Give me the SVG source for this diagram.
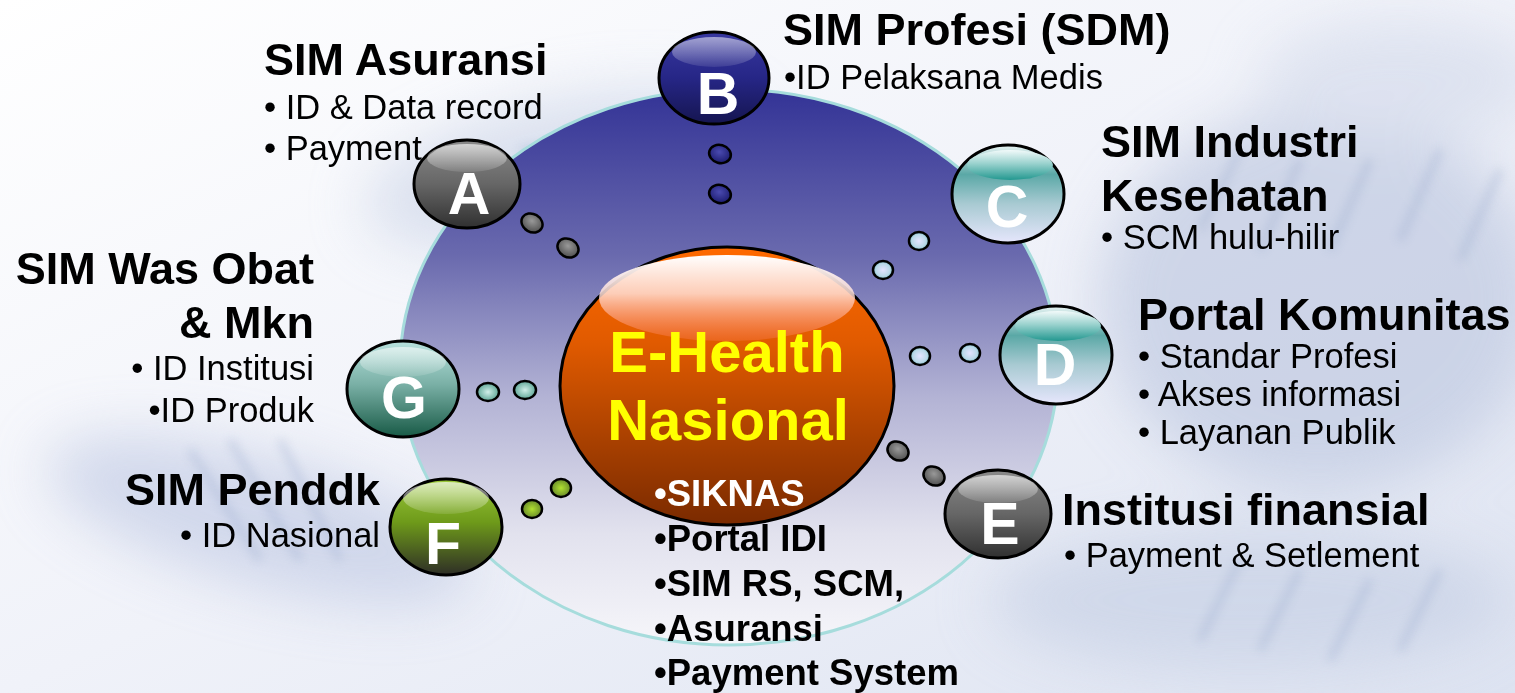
<svg xmlns="http://www.w3.org/2000/svg" width="1515" height="693" viewBox="0 0 1515 693">
<defs>
<linearGradient id="bg" x1="0" y1="0" x2="1" y2="1">
<stop offset="0" stop-color="#ffffff"/>
<stop offset="0.5" stop-color="#f0f2f9"/>
<stop offset="1" stop-color="#dde3f1"/>
</linearGradient>
<filter id="blur" x="-50%" y="-50%" width="200%" height="200%"><feGaussianBlur stdDeviation="28"/></filter>
<filter id="blur2" x="-20%" y="-20%" width="140%" height="140%"><feGaussianBlur stdDeviation="5"/></filter>
<linearGradient id="gBig" x1="0" y1="0" x2="0" y2="1">
<stop offset="0" stop-color="#333396"/>
<stop offset="0.3" stop-color="#6a6aae"/>
<stop offset="0.55" stop-color="#b2b2d4"/>
<stop offset="0.8" stop-color="#e2e2ee"/>
<stop offset="1" stop-color="#f6f6fa"/>
</linearGradient>
<linearGradient id="gOr" x1="0" y1="0" x2="0" y2="1">
<stop offset="0" stop-color="#ff6a00"/>
<stop offset="0.35" stop-color="#e05a00"/>
<stop offset="0.7" stop-color="#a84000"/>
<stop offset="1" stop-color="#7a2a00"/>
</linearGradient>
<linearGradient id="gOrHi" x1="0" y1="0" x2="0" y2="1">
<stop offset="0" stop-color="#ffffff" stop-opacity="1"/>
<stop offset="0.45" stop-color="#ffe0d8" stop-opacity="0.85"/>
<stop offset="1" stop-color="#ff8060" stop-opacity="0.3"/>
</linearGradient>
<linearGradient id="hiW" x1="0" y1="0" x2="0" y2="1">
<stop offset="0" stop-color="#ffffff" stop-opacity="0.9"/>
<stop offset="1" stop-color="#ffffff" stop-opacity="0.15"/>
</linearGradient>
<linearGradient id="gGray" x1="0" y1="0" x2="0" y2="1">
<stop offset="0" stop-color="#8a8a8a"/>
<stop offset="0.5" stop-color="#666666"/>
<stop offset="1" stop-color="#303030"/>
</linearGradient>
<linearGradient id="gNavy" x1="0" y1="0" x2="0" y2="1">
<stop offset="0" stop-color="#3838a0"/>
<stop offset="0.5" stop-color="#262686"/>
<stop offset="1" stop-color="#151550"/>
</linearGradient>
<linearGradient id="gTeal" x1="0" y1="0" x2="0" y2="1">
<stop offset="0" stop-color="#e8f4f4"/>
<stop offset="0.3" stop-color="#5aa8a6"/>
<stop offset="0.6" stop-color="#a8cad2"/>
<stop offset="1" stop-color="#e6e6fc"/>
</linearGradient>
<linearGradient id="hiTeal" x1="0" y1="0" x2="0" y2="1">
<stop offset="0" stop-color="#f2fafa"/>
<stop offset="0.45" stop-color="#9ad2ce"/>
<stop offset="1" stop-color="#239890"/>
</linearGradient>
<linearGradient id="gGreen" x1="0" y1="0" x2="0" y2="1">
<stop offset="0" stop-color="#9ac83a"/>
<stop offset="0.45" stop-color="#6e9a1a"/>
<stop offset="1" stop-color="#2e2e26"/>
</linearGradient>
<linearGradient id="gSea" x1="0" y1="0" x2="0" y2="1">
<stop offset="0" stop-color="#b8e2de"/>
<stop offset="0.45" stop-color="#7ab0a6"/>
<stop offset="1" stop-color="#185a46"/>
</linearGradient>
<radialGradient id="dGray" cx="0.45" cy="0.4" r="0.6">
<stop offset="0" stop-color="#999999"/><stop offset="1" stop-color="#505050"/>
</radialGradient>
<radialGradient id="dNavy" cx="0.45" cy="0.4" r="0.6">
<stop offset="0" stop-color="#4a4ab0"/><stop offset="1" stop-color="#1c1c70"/>
</radialGradient>
<radialGradient id="dTeal" cx="0.5" cy="0.5" r="0.6">
<stop offset="0" stop-color="#e4e4ff"/><stop offset="0.6" stop-color="#b8d8e8"/><stop offset="1" stop-color="#3a9a98"/>
</radialGradient>
<radialGradient id="dGreen" cx="0.5" cy="0.5" r="0.6">
<stop offset="0" stop-color="#b0e030"/><stop offset="1" stop-color="#5a7a28"/>
</radialGradient>
<radialGradient id="dSea" cx="0.5" cy="0.5" r="0.6">
<stop offset="0" stop-color="#d0eee8"/><stop offset="1" stop-color="#4a9a88"/>
</radialGradient>
<style>
.ball{stroke:#000;stroke-width:3}
.dot{stroke:#000;stroke-width:2.5}
.let{font-family:"Liberation Sans",Arial,sans-serif;font-weight:bold;font-size:59px;fill:#fff;text-anchor:middle}
.h{font-family:"Liberation Sans",Arial,sans-serif;font-weight:bold;font-size:45px;fill:#000}
.b{font-family:"Liberation Sans",Arial,sans-serif;font-size:34.5px;fill:#000}
.r{text-anchor:end}
.cen{font-family:"Liberation Sans",Arial,sans-serif;font-weight:bold;font-size:58px;fill:#ffff00;text-anchor:middle}
.lst{font-family:"Liberation Sans",Arial,sans-serif;font-weight:bold;font-size:36.5px;fill:#000}
.wht{fill:#fff}
</style>
</defs>

<g id="background">
<rect width="1515" height="693" fill="url(#bg)"/>
<g filter="url(#blur)" opacity="0.6">
<ellipse cx="560" cy="170" rx="200" ry="70" fill="#c8d1e6" transform="rotate(-12 560 170)"/>
<ellipse cx="260" cy="520" rx="220" ry="65" fill="#bcc6e2" transform="rotate(15 260 520)"/>
<ellipse cx="1320" cy="300" rx="220" ry="190" fill="#b9c4de"/>
<ellipse cx="1250" cy="600" rx="260" ry="70" fill="#c3cde3"/>
<ellipse cx="1400" cy="80" rx="140" ry="60" fill="#d2d9ea"/>
</g>
<g filter="url(#blur2)" opacity="0.3" stroke="#8fa2c8" stroke-width="7" fill="none">
<path d="M1200 230 L1240 150 M1260 250 L1300 160 M1330 250 L1370 160 M1400 240 L1440 150 M1460 260 L1500 170"/>
<path d="M1200 640 L1240 560 M1260 650 L1300 570 M1330 660 L1370 580 M1400 650 L1440 570"/>
<path d="M520 150 L640 135 M515 175 L650 160 M530 200 L660 185 M545 225 L660 210"/>
<path d="M190 450 L260 560 M230 440 L300 560 M280 440 L340 560"/>
</g>
</g>

<g id="ring">
<ellipse cx="729" cy="367" rx="329" ry="278" fill="url(#gBig)" stroke="#a6dcdc" stroke-width="3"/>
</g>

<g id="connectors">
<ellipse class="dot" cx="532" cy="223" rx="11" ry="9" fill="url(#dGray)" transform="rotate(30 532 223)"/>
<ellipse class="dot" cx="568" cy="248" rx="11" ry="9" fill="url(#dGray)" transform="rotate(30 568 248)"/>
<ellipse class="dot" cx="720" cy="154" rx="11" ry="9" fill="url(#dNavy)" transform="rotate(15 720 154)"/>
<ellipse class="dot" cx="720" cy="194" rx="11" ry="9" fill="url(#dNavy)" transform="rotate(15 720 194)"/>
<ellipse class="dot" cx="919" cy="241" rx="10" ry="9" fill="url(#dTeal)"/>
<ellipse class="dot" cx="883" cy="270" rx="10" ry="9" fill="url(#dTeal)"/>
<ellipse class="dot" cx="920" cy="356" rx="10" ry="9" fill="url(#dTeal)"/>
<ellipse class="dot" cx="970" cy="353" rx="10" ry="9" fill="url(#dTeal)"/>
<ellipse class="dot" cx="898" cy="451" rx="11" ry="9" fill="url(#dGray)" transform="rotate(30 898 451)"/>
<ellipse class="dot" cx="934" cy="476" rx="11" ry="9" fill="url(#dGray)" transform="rotate(30 934 476)"/>
<ellipse class="dot" cx="532" cy="509" rx="10" ry="9" fill="url(#dGreen)"/>
<ellipse class="dot" cx="561" cy="488" rx="10" ry="9" fill="url(#dGreen)"/>
<ellipse class="dot" cx="488" cy="392" rx="11" ry="9" fill="url(#dSea)"/>
<ellipse class="dot" cx="525" cy="390" rx="11" ry="9" fill="url(#dSea)"/>
</g>

<g id="node-center">
<ellipse cx="727" cy="386" rx="167" ry="139" fill="url(#gOr)" stroke="#000" stroke-width="3"/>
<ellipse cx="727" cy="298" rx="128" ry="43" fill="url(#gOrHi)"/>
<text class="cen" x="727" y="372">E-Health</text>
<text class="cen" x="728" y="440">Nasional</text>
<text class="lst wht" x="654" y="506">•SIKNAS</text>
<text class="lst" x="654" y="551">•Portal IDI</text>
<text class="lst" x="654" y="596">•SIM RS, SCM,</text>
<text class="lst" x="654" y="641">•Asuransi</text>
<text class="lst" x="654" y="685">•Payment System</text>
</g>

<g id="node-A">
<ellipse class="ball" cx="467" cy="184" rx="53" ry="44" fill="url(#gGray)"/>
<ellipse cx="467" cy="158" rx="40" ry="14" fill="url(#hiW)" opacity="0.7"/>
<text class="let" x="469" y="214">A</text>
<text class="h" x="264" y="75">SIM Asuransi</text>
<text class="b" x="264" y="119">• ID &amp; Data record</text>
<text class="b" x="264" y="160">• Payment</text>
</g>

<g id="node-B">
<ellipse class="ball" cx="714" cy="78" rx="55" ry="46" fill="url(#gNavy)"/>
<ellipse cx="714" cy="52" rx="42" ry="15" fill="url(#hiW)" opacity="0.6"/>
<text class="let" x="718" y="114">B</text>
<text class="h" x="783" y="45">SIM Profesi (SDM)</text>
<text class="b" x="784" y="89">•ID Pelaksana Medis</text>
</g>

<g id="node-C">
<ellipse class="ball" cx="1008" cy="194" rx="56" ry="49" fill="url(#gTeal)"/>
<ellipse cx="1010" cy="165" rx="43" ry="15" fill="url(#hiTeal)"/>
<text class="let" x="1007" y="227">C</text>
<text class="h" x="1101" y="157">SIM Industri</text>
<text class="h" x="1101" y="211">Kesehatan</text>
<text class="b" x="1101" y="249">• SCM hulu-hilir</text>
</g>

<g id="node-D">
<ellipse class="ball" cx="1056" cy="355" rx="56" ry="49" fill="url(#gTeal)"/>
<ellipse cx="1058" cy="326" rx="43" ry="15" fill="url(#hiTeal)"/>
<text class="let" x="1055" y="385">D</text>
<text class="h" x="1138" y="330">Portal Komunitas</text>
<text class="b" x="1138" y="368">• Standar Profesi</text>
<text class="b" x="1138" y="406">• Akses informasi</text>
<text class="b" x="1138" y="444">• Layanan Publik</text>
</g>

<g id="node-E">
<ellipse class="ball" cx="998" cy="514" rx="53" ry="44" fill="url(#gGray)"/>
<ellipse cx="998" cy="489" rx="40" ry="14" fill="url(#hiW)" opacity="0.7"/>
<text class="let" x="1000" y="544">E</text>
<text class="h" x="1062" y="525">Institusi finansial</text>
<text class="b" x="1064" y="567">• Payment &amp; Setlement</text>
</g>

<g id="node-F">
<ellipse class="ball" cx="446" cy="527" rx="56" ry="48" fill="url(#gGreen)"/>
<ellipse cx="446" cy="498" rx="43" ry="16" fill="url(#hiW)" opacity="0.75"/>
<text class="let" x="443" y="564">F</text>
<text class="h r" x="380" y="505">SIM Penddk</text>
<text class="b r" x="380" y="547">• ID Nasional</text>
</g>

<g id="node-G">
<ellipse class="ball" cx="403" cy="389" rx="56" ry="48" fill="url(#gSea)"/>
<ellipse cx="403" cy="362" rx="43" ry="15" fill="url(#hiW)" opacity="0.65"/>
<text class="let" x="404" y="418">G</text>
<text class="h r" x="314" y="284">SIM Was Obat</text>
<text class="h r" x="314" y="338">&amp; Mkn</text>
<text class="b r" x="314" y="380">•  ID Institusi</text>
<text class="b r" x="314" y="422">•ID Produk</text>
</g>
</svg>
